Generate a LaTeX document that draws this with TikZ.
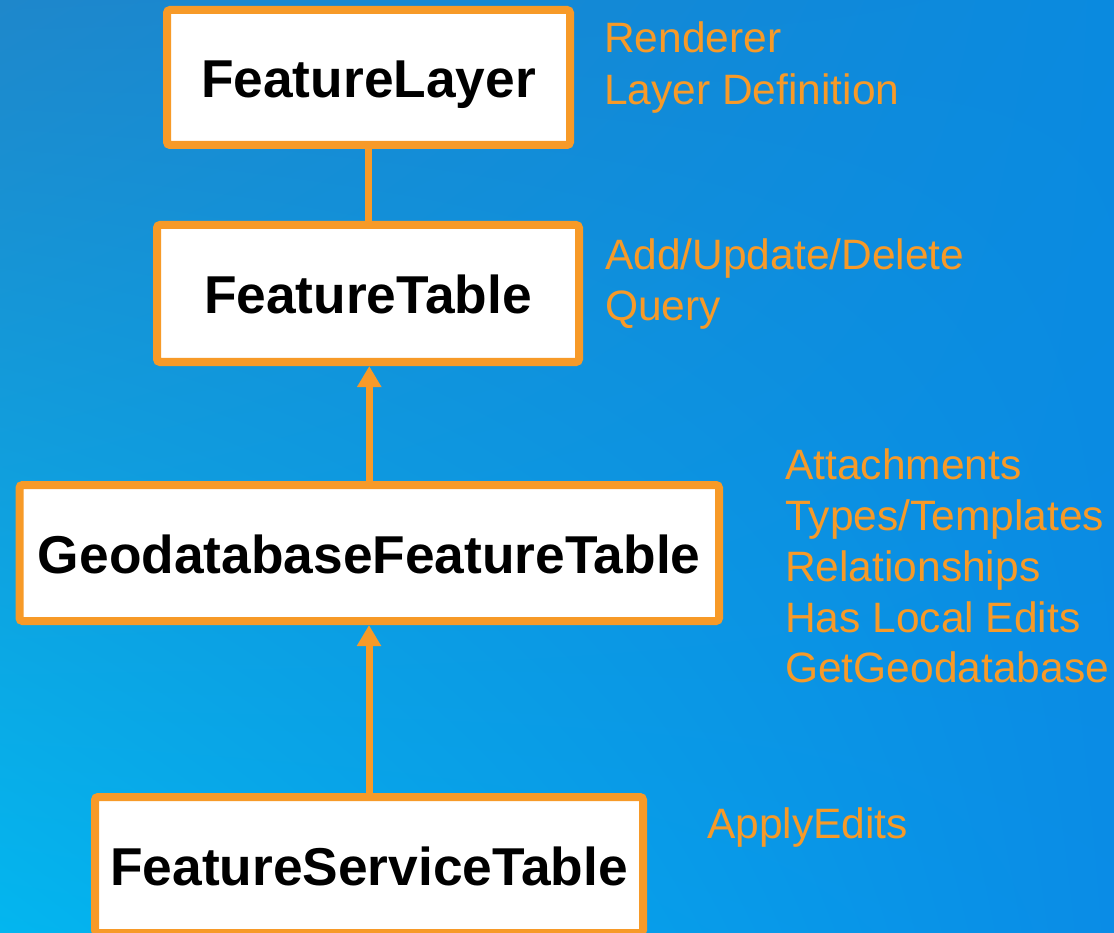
\documentclass[tikz,border=0pt]{standalone}
\usepackage{fontspec}
\setmainfont{Liberation Sans}
\usetikzlibrary{arrows.meta,shadings}
\definecolor{esriorange}{HTML}{F79A28}
\definecolor{bgul}{HTML}{1E87CB}
\definecolor{bgur}{HTML}{0A8ADF}
\definecolor{bgll}{HTML}{03B6EF}
\definecolor{bglr}{HTML}{0A8CE6}
\begin{document}
\begin{tikzpicture}[x=1pt,y=-1pt,
  box/.style={draw=esriorange, line width=8pt, fill=white, rounded corners=3pt,
    inner sep=0pt, text height=41pt, text depth=0pt,
    font=\fontsize{53.3}{60}\selectfont\bfseries, anchor=center},
  lbl/.style={text=esriorange, font=\fontsize{42.5}{51}\selectfont, anchor=base west, inner sep=0pt},
  conn/.style={draw=esriorange, line width=7pt},
  inh/.style={conn, -{Triangle[length=21pt,width=23pt]}}]
\shade[upper left=bgul, upper right=bgur, lower left=bgll, lower right=bglr] (0,0) rectangle (1114,933);
\useasboundingbox (0,0) rectangle (1114,933);

\node[box, minimum width=403pt, minimum height=135pt] (fl) at (368.5,77.5) {FeatureLayer};
\node[box, minimum width=422pt, minimum height=137pt] (ft) at (368,293.5) {FeatureTable};
\node[box, minimum width=699.5pt, minimum height=136pt] (gft) at (369.25,553) {GeodatabaseFeatureTable};
\node[box, minimum width=548pt, minimum height=136pt] (fst) at (369,865) {FeatureServiceTable};

\draw[conn] (fl.south) -- (fl.south |- ft.north);
\draw[inh] (gft.north) -- (gft.north |- ft.south);
\draw[inh] (fst.north) -- (fst.north |- gft.south);

\node[lbl] (l1) at (604,53) {Renderer};
\node[lbl] (l2) at (604,104.5) {Layer Definition};
\node[lbl] (l3) at (605,270) {Add/Update/Delete};
\node[lbl] (l4) at (605,321) {Query};
\node[lbl] (l5) at (785,479) {Attachments};
\node[lbl] (l6) at (785,530) {Types/Templates};
\node[lbl] (l7) at (785,581) {Relationships};
\node[lbl] (l8) at (785,632) {Has Local Edits};
\node[lbl] (l9) at (785,682) {GetGeodatabase};
\node[lbl] (l10) at (707,838) {ApplyEdits};
\end{tikzpicture}
\end{document}
